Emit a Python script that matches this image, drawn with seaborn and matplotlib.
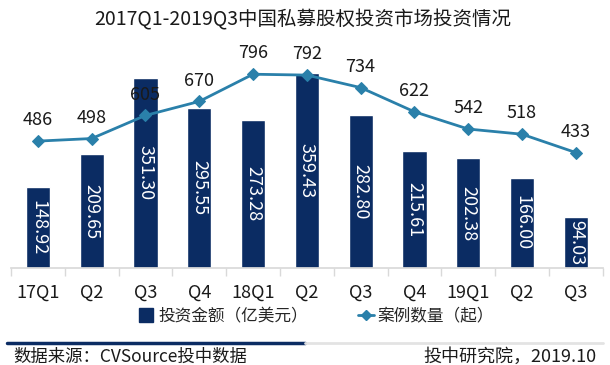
import matplotlib
matplotlib.use("Agg")
import matplotlib.pyplot as plt
from matplotlib.lines import Line2D
import seaborn as sns
import pandas as pd
import numpy as np

# 数据
periods = ["2017Q1", "2017Q2", "2017Q3", "2017Q4", "2018Q1", "2018Q2",
           "2018Q3", "2018Q4", "2019Q1", "2019Q2", "2019Q3"]
tick_labels = ["17Q1", "Q2", "Q3", "Q4", "18Q1", "Q2", "Q3", "Q4", "19Q1", "Q2", "Q3"]
amount = [148.92, 209.65, 351.30, 295.55, 273.28, 359.43, 282.80, 215.61, 202.38, 166.00, 94.03]
cases = [486, 498, 605, 670, 796, 792, 734, 622, 542, 518, 433]

BAR_COLOR = "#0B2C63"
LINE_COLOR = "#2A80AA"
TEXT_COLOR = "#1a1a1a"

sns.set_theme(style="white")
plt.rcParams['font.family'] = ['Noto Sans CJK SC', 'DejaVu Sans']
plt.rcParams['font.weight'] = 'light'

df = pd.DataFrame({"period": periods, "amount": amount, "cases": cases})
df["pos"] = np.arange(len(df))

fig = plt.figure(figsize=(6.1, 3.65), dpi=100)
ax = fig.add_axes([0.018, 0.2658, 0.970, 0.624])

sns.barplot(data=df, x="period", y="amount", order=periods, color=BAR_COLOR,
            saturation=1, width=0.45, ax=ax)
ax.set_xlim(-0.5, len(periods) - 0.5)
ax.set_ylim(0, 420.3)
ax.bar_label(ax.containers[0], labels=[f"{v:.2f}" for v in amount],
             label_type="center", rotation=-90, color="white", fontsize=13)

ax.set_xticks(df["pos"])
ax.set_xticklabels(tick_labels, fontsize=13, color=TEXT_COLOR)
ax.set_xticks(np.arange(-0.5, len(periods), 1), minor=True)
ax.tick_params(axis="x", which="major", length=0, pad=11)
ax.tick_params(axis="x", which="minor", length=6, color="#D9D9D9", width=1, bottom=True)
ax.set_yticks([])
ax.set_xlabel("")
ax.set_ylabel("")
for s in ["top", "left", "right"]:
    ax.spines[s].set_visible(False)
ax.spines["bottom"].set_color("#D9D9D9")

# 折线
ax2 = ax.twinx()
sns.lineplot(data=df, x="pos", y="cases", ax=ax2, color=LINE_COLOR, lw=2,
             marker="D", markersize=6, markeredgecolor=LINE_COLOR)
ax2.set_ylim(-102, 953.6)
ax2.set_xlim(-0.5, len(periods) - 0.5)
for p, v in zip(df["pos"], cases):
    ax2.annotate(str(v), (p, v), xytext=(0, 15), textcoords="offset points",
                 ha="center", va="center", fontsize=13, color=TEXT_COLOR)
ax2.set_yticks([])
ax2.set_ylabel("")
for s in ax2.spines.values():
    s.set_visible(False)

# 标题
fig.text(0.497, 0.945, "2017Q1-2019Q3中国私募股权投资市场投资情况",
         ha="center", va="center", fontsize=14, color=TEXT_COLOR)

# 图例
handles = [Line2D([], [], marker="s", ls="none", color=BAR_COLOR, markersize=10),
           Line2D([], [], marker="D", color=LINE_COLOR, lw=2, markersize=5)]
fig.legend(handles, ["投资金额（亿美元）", "案例数量（起）"], loc="center",
           bbox_to_anchor=(0.518, 0.132), ncol=2, frameon=False, fontsize=12,
           handlelength=1.0, handletextpad=0.2, columnspacing=3.0)

# 底部分隔线与来源
fig.add_artist(Line2D([7 / 610, 305 / 610], [1 - 343 / 365] * 2, color=BAR_COLOR, lw=2.5))
fig.add_artist(Line2D([305 / 610, 603 / 610], [1 - 343 / 365] * 2, color="#E3E3E3", lw=2))
fig.text(13 / 610, 1 - 357 / 365, "数据来源：CVSource投中数据", ha="left", va="center",
         fontsize=12.5, color=TEXT_COLOR)
fig.text(597 / 610, 1 - 357 / 365, "投中研究院，2019.10", ha="right", va="center",
         fontsize=13, color=TEXT_COLOR)

fig.savefig("out.png", dpi=100)
